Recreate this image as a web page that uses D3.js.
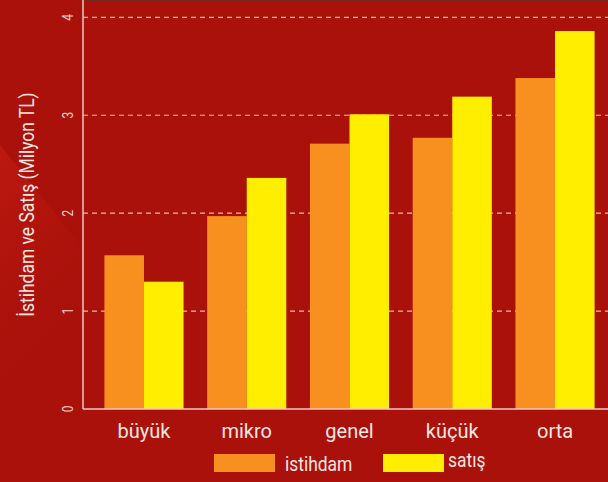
<!DOCTYPE html>
<html>
<head>
<meta charset="utf-8">
<script src="https://cdn.jsdelivr.net/npm/d3@7"></script>
<style>
  html, body { margin: 0; padding: 0; background: #a9110a; }
  svg { display: block; font-family: Roboto, "Noto Sans", sans-serif; }
</style>
</head>
<body>
<div id="chart"></div>
<script>
const categories = ['büyük', 'mikro', 'genel', 'küçük', 'orta'];
const istihdam = [1.57, 1.97, 2.71, 2.77, 3.38];
const satis = [1.30, 2.36, 3.01, 3.19, 3.86];
const seriesNames = ['istihdam', 'satış'];
const yTicks = [0, 1, 2, 3, 4];
const yTitle = 'İstihdam ve Satış (Milyon TL)';

const width = 608;
const height = 482;
const margin = { top: 0, right: 0, bottom: 73, left: 83 };
const colors = { istihdam: '#f7901e', 'satış': '#ffee00' };
const textColor = '#f6e6e2';

const rows = categories.map((c, i) => ({ cat: c, istihdam: istihdam[i], 'satış': satis[i] }));

const svg = d3.select('#chart')
    .append('svg')
    .attr('width', width)
    .attr('height', height);

// background, with a soft lighter sweep on the left side
const defs = svg.append('defs');
const grad = defs.append('linearGradient')
    .attr('id', 'sweep')
    .attr('x1', '0').attr('y1', '0').attr('x2', '0.3').attr('y2', '1');
grad.append('stop').attr('offset', '0%').attr('stop-color', '#d42318').attr('stop-opacity', 0.45);
grad.append('stop').attr('offset', '100%').attr('stop-color', '#a9110a').attr('stop-opacity', 0);

svg.append('rect').attr('width', width).attr('height', height).attr('fill', '#a9110a');
svg.append('path')
    .attr('d', 'M0,145 L83,248 L83,420 L0,420 Z')
    .attr('fill', 'url(#sweep)');

const x0 = d3.scaleBand()
    .domain(categories)
    .range([92.6, 606.4])
    .paddingInner(0.23)
    .paddingOuter(0.115);

const x1 = d3.scaleBand()
    .domain(seriesNames)
    .range([0, x0.bandwidth()]);

const y = d3.scaleLinear()
    .domain([0, 4.177])
    .range([height - margin.bottom, margin.top]);

// top panel border
svg.append('line')
    .attr('x1', margin.left).attr('x2', width)
    .attr('y1', 0.5).attr('y2', 0.5)
    .attr('stroke', '#7a2a1c').attr('stroke-width', 1.5);

// dashed grid
svg.append('g')
    .selectAll('line')
    .data(yTicks.filter(t => t > 0))
    .join('line')
    .attr('x1', margin.left).attr('x2', width)
    .attr('y1', d => y(d)).attr('y2', d => y(d))
    .attr('stroke', '#f2b8ae')
    .attr('stroke-width', 1.2)
    .attr('stroke-dasharray', '5,4');

// bars
const groups = svg.append('g')
    .selectAll('g')
    .data(rows)
    .join('g')
    .attr('transform', d => `translate(${x0(d.cat)},0)`);

groups.selectAll('rect')
    .data(d => seriesNames.map(k => ({ key: k, value: d[k] })))
    .join('rect')
    .attr('x', d => x1(d.key))
    .attr('y', d => y(d.value))
    .attr('width', x1.bandwidth())
    .attr('height', d => y(0) - y(d.value))
    .attr('fill', d => colors[d.key]);

// axis lines
svg.append('line')
    .attr('x1', margin.left).attr('x2', margin.left)
    .attr('y1', 0).attr('y2', y(0))
    .attr('stroke', '#ecc8c4').attr('stroke-width', 1.5);
svg.append('line')
    .attr('x1', margin.left).attr('x2', width)
    .attr('y1', y(0)).attr('y2', y(0))
    .attr('stroke', '#ecc8c4').attr('stroke-width', 1.5);

// y tick labels (rotated, narrow)
svg.append('g')
    .selectAll('text')
    .data(yTicks)
    .join('text')
    .attr('transform', d => `translate(73,${y(d)}) rotate(-90) scale(0.85,1)`)
    .attr('text-anchor', 'middle')
    .attr('fill', '#f0d2cc')
    .attr('font-size', 14)
    .text(d => d);

// x labels
svg.append('g')
    .selectAll('text')
    .data(categories)
    .join('text')
    .attr('x', d => x0(d) + x0.bandwidth() / 2)
    .attr('y', 437.5)
    .attr('text-anchor', 'middle')
    .attr('fill', textColor)
    .attr('font-size', 20)
    .text(d => d);

// y title
svg.append('text')
    .attr('transform', `translate(34,${(y(0) + margin.top) / 2}) rotate(-90) scale(0.83,1)`)
    .attr('text-anchor', 'middle')
    .attr('fill', textColor)
    .attr('font-size', 21)
    .text(yTitle);

// legend
const legendX = [214, 383];
const legend = svg.append('g')
    .selectAll('g')
    .data(seriesNames)
    .join('g')
    .attr('transform', (d, i) => `translate(${legendX[i]},454)`);

legend.append('rect')
    .attr('width', 61)
    .attr('height', 18)
    .attr('fill', d => colors[d]);

legend.append('text')
    .attr('transform', (d, i) => `translate(${i === 0 ? 71 : 65},${i === 0 ? 17 : 13}) scale(0.83,1)`)
    .attr('fill', textColor)
    .attr('font-size', 21)
    .text(d => d);
</script>
</body>
</html>
